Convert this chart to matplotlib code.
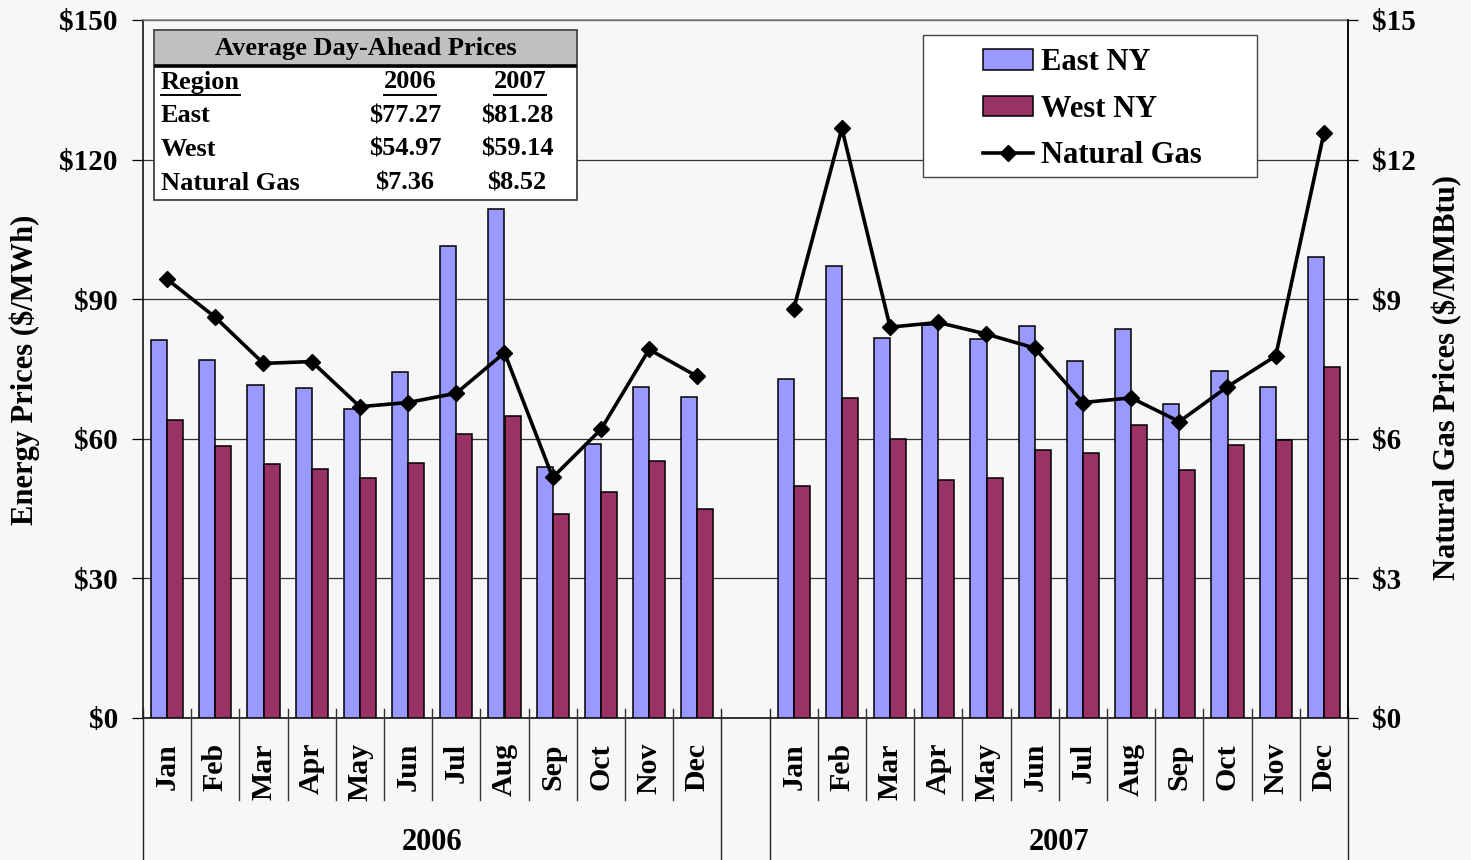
import matplotlib
matplotlib.use("Agg")
import matplotlib.pyplot as plt
import matplotlib.transforms as mtransforms
from matplotlib.patches import Rectangle, Patch
from matplotlib.lines import Line2D
import numpy as np

# ---------------- data ----------------
months = ["Jan", "Feb", "Mar", "Apr", "May", "Jun", "Jul", "Aug", "Sep", "Oct", "Nov", "Dec"]
years = ["2006", "2007"]

east_2006 = [81.2, 76.9, 71.6, 70.9, 66.3, 74.4, 101.5, 109.3, 54.0, 58.8, 71.2, 68.9]
west_2006 = [64.0, 58.5, 54.6, 53.6, 51.6, 54.8, 61.0, 65.0, 43.8, 48.6, 55.2, 44.9]
gas_2006 = [9.43, 8.61, 7.62, 7.66, 6.69, 6.78, 6.98, 7.85, 5.17, 6.20, 7.92, 7.34]

east_2007 = [72.8, 97.2, 81.6, 84.5, 81.5, 84.3, 76.8, 83.6, 67.5, 74.6, 71.1, 99.1]
west_2007 = [49.9, 68.7, 59.9, 51.1, 51.5, 57.6, 56.9, 63.0, 53.3, 58.7, 59.7, 75.5]
gas_2007 = [8.79, 12.67, 8.40, 8.50, 8.25, 7.95, 6.78, 6.88, 6.37, 7.12, 7.78, 12.57]

table_title = "Average Day-Ahead Prices"
table_header = ["Region", "2006", "2007"]
table_rows = [["East", "$77.27", "$81.28"],
              ["West", "$54.97", "$59.14"],
              ["Natural Gas", "$7.36", "$8.52"]]

left_ticks = [0, 30, 60, 90, 120, 150]
right_ticks = [0, 3, 6, 9, 12, 15]

# ---------------- style ----------------
W, H = 1471, 860
BG = "#f7f7f7"
EAST_C = "#9999ff"
WEST_C = "#993366"
FONT = ["Liberation Serif", "DejaVu Serif"]
plt.rcParams["font.family"] = FONT
plt.rcParams["font.weight"] = "bold"

fig = plt.figure(figsize=(W / 100, H / 100), dpi=100, facecolor=BG)

def fx(x):
    return x / W

def fy(y):
    return 1 - y / H

ax_l, ax_r, ax_t, ax_b = 143, 1348, 20, 718
ax = fig.add_axes([fx(ax_l), fy(ax_b), fx(ax_r - ax_l), (ax_b - ax_t) / H])
ax.set_facecolor(BG)

x06 = np.arange(12)
x07 = np.arange(12) + 13
bw = 1 / 3

ax.bar(x06 - bw / 2, east_2006, bw, color=EAST_C, edgecolor="black", linewidth=1.1, zorder=3)
ax.bar(x06 + bw / 2, west_2006, bw, color=WEST_C, edgecolor="black", linewidth=1.1, zorder=3)
ax.bar(x07 - bw / 2, east_2007, bw, color=EAST_C, edgecolor="black", linewidth=1.1, zorder=3)
ax.bar(x07 + bw / 2, west_2007, bw, color=WEST_C, edgecolor="black", linewidth=1.1, zorder=3)

ax.set_xlim(-0.5, 24.5)
ax.set_ylim(0, 150)
ax.set_yticks(left_ticks)
ax.set_yticklabels(["$%d" % v for v in left_ticks])
ax.yaxis.grid(True, color="#333333", linewidth=0.9, zorder=0)
ax.set_axisbelow(True)
ax.tick_params(axis="y", direction="out", length=8, width=0.9, pad=10,
               labelsize=21, colors="black")
for lab in ax.get_yticklabels():
    lab.set_fontweight("bold")

ax.set_xticks(list(x06) + list(x07))
ax.set_xticklabels(months + months, rotation=90, fontsize=21.5, fontweight="bold")
ax.tick_params(axis="x", length=0, pad=18)

ax.spines["top"].set_color("#808080")
ax.spines["top"].set_linewidth(1.2)
ax.spines["left"].set_color("black")
ax.spines["left"].set_linewidth(1.1)
ax.spines["bottom"].set_color("black")
ax.spines["bottom"].set_linewidth(1.1)
ax.spines["right"].set_color("black")
ax.spines["right"].set_linewidth(1.1)

# category separators
trans = mtransforms.blended_transform_factory(ax.transData, ax.transAxes)
above = (ax_b - 709) / (ax_b - ax_t)
short_bot = -(800 - ax_b) / (ax_b - ax_t)
long_bot = -(H - ax_b) / (ax_b - ax_t)
inner = [i + 0.5 for i in range(11)] + [i + 13.5 for i in range(11)]
year_edges = [-0.5, 11.5, 12.5, 24.5]
for xb in inner:
    ax.plot([xb, xb], [above, short_bot], transform=trans, color="#333333",
            linewidth=1.0, clip_on=False, zorder=5)
for xb in year_edges:
    ax.plot([xb, xb], [above, long_bot], transform=trans, color="#222222",
            linewidth=1.0, clip_on=False, zorder=5)

# year labels
ylab_y = -(843 - ax_b) / (ax_b - ax_t)
ax.text(np.mean(x06), ylab_y, years[0], transform=trans,
        ha="center", va="center", fontsize=22, fontweight="bold")
ax.text(np.mean(x07), ylab_y, years[1], transform=trans,
        ha="center", va="center", fontsize=22, fontweight="bold")

# secondary axis
ax2 = ax.twinx()
ax2.set_ylim(0, 15)
ax2.set_yticks(right_ticks)
ax2.set_yticklabels(["$%d" % v for v in right_ticks])
ax2.tick_params(axis="y", direction="out", length=7, width=0.9, pad=10.5,
                labelsize=21, colors="black")
for lab in ax2.get_yticklabels():
    lab.set_fontweight("bold")
for s in ["top", "left", "bottom"]:
    ax2.spines[s].set_visible(False)
ax2.spines["right"].set_color("black")
ax2.spines["right"].set_linewidth(1.1)

line_kw = dict(color="black", linewidth=2.6, marker="D", markersize=8,
               markerfacecolor="black", markeredgecolor="black", zorder=6)
ax2.plot(x06, gas_2006, **line_kw)
ax2.plot(x07, gas_2007, **line_kw)

# axis titles
fig.text(fx(25), fy(370), "Energy Prices ($/MWh)", rotation=90, ha="center",
         va="center", fontsize=22, fontweight="bold")
fig.text(fx(1447), fy(377), "Natural Gas Prices ($/MMBtu)", rotation=90,
         ha="center", va="center", fontsize=22, fontweight="bold")

# ---------------- legend ----------------
fig.patches.append(Rectangle((fx(923), fy(177)), fx(1257 - 923), (177 - 35) / H,
                             transform=fig.transFigure, facecolor="white",
                             edgecolor="#444444", linewidth=1.0, zorder=4))
handles = [Patch(facecolor=EAST_C, edgecolor="black", linewidth=1.1),
           Patch(facecolor=WEST_C, edgecolor="black", linewidth=1.1),
           Line2D([], [], color="black", linewidth=2.6, marker="D", markersize=8)]
leg = fig.legend(handles, ["East NY", "West NY", "Natural Gas"],
                 loc="upper left", bbox_to_anchor=(fx(983), fy(48)),
                 frameon=False, prop={"family": FONT, "weight": "bold", "size": 22},
                 handlelength=1.65, handleheight=0.66, handletextpad=0.25,
                 labelspacing=0.58, borderpad=0.0, borderaxespad=0.0)
leg.set_zorder(6)

# ---------------- table ----------------
tx0, tx1, ty0, ty1 = 154, 577, 30, 200
fig.patches.append(Rectangle((fx(tx0), fy(ty1)), fx(tx1 - tx0), (ty1 - ty0) / H,
                             transform=fig.transFigure, facecolor="white",
                             edgecolor="#333333", linewidth=1.2, zorder=4))
fig.patches.append(Rectangle((fx(tx0 + 1), fy(65)), fx(tx1 - tx0 - 2), (65 - ty0 - 1) / H,
                             transform=fig.transFigure, facecolor="#c0c0c0",
                             edgecolor="none", zorder=4.1))
fig.add_artist(Line2D([fx(tx0 + 2), fx(tx1 - 2)], [fy(66), fy(66)],
                      transform=fig.transFigure, color="black", linewidth=2.6, zorder=4.2))
tfs = 19
fig.text(fx(366), fy(49), table_title, ha="center", va="center", fontsize=tfs,
         fontweight="bold", zorder=5)
hdr = []
hdr.append(fig.text(fx(161), fy(82), table_header[0], ha="left", va="center",
                    fontsize=tfs, fontweight="bold", zorder=5))
hdr.append(fig.text(fx(410), fy(82), table_header[1], ha="center", va="center",
                    fontsize=tfs, fontweight="bold", zorder=5))
hdr.append(fig.text(fx(520), fy(82), table_header[2], ha="center", va="center",
                    fontsize=tfs, fontweight="bold", zorder=5))
row_y = [116, 149, 183]
for ry, row in zip(row_y, table_rows):
    fig.text(fx(161), fy(ry), row[0], ha="left", va="center", fontsize=tfs,
             fontweight="bold", zorder=5)
    fig.text(fx(405), fy(ry), row[1], ha="center", va="center", fontsize=tfs,
             fontweight="bold", zorder=5)
    fig.text(fx(517), fy(ry), row[2], ha="center", va="center", fontsize=tfs,
             fontweight="bold", zorder=5)

fig.canvas.draw()
r = fig.canvas.get_renderer()
for t in hdr:
    bb = t.get_window_extent(r)
    x0, x1 = bb.x0, bb.x1
    fig.add_artist(Line2D([x0 / W, x1 / W], [fy(95), fy(95)], transform=fig.transFigure,
                          color="black", linewidth=1.4, zorder=5))

fig.savefig("out.png", dpi=100, facecolor=BG)
